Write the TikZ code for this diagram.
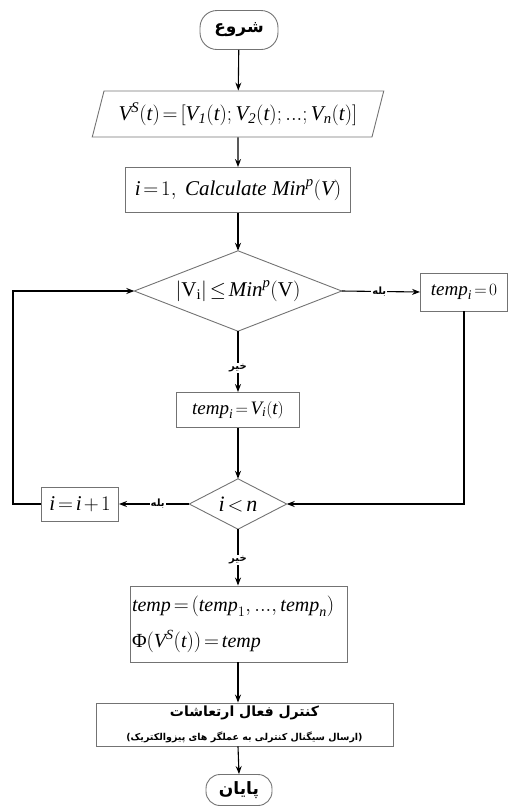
\documentclass[tikz,border=0pt]{standalone}
\usepackage{fontspec}
\setmainfont{Liberation Serif}
\newfontfamily\arabicfont[Script=Arabic]{DejaVu Sans}
\TeXXeTstate=1
\usetikzlibrary{arrows.meta,shapes.geometric}
\newcommand{\artxt}[1]{{\arabicfont\beginR #1\endR}}
\thickmuskip=2.5mu plus 1mu
\medmuskip=2mu
\begin{document}
\begin{tikzpicture}[x=1pt,y=-1pt,
  boxst/.style={draw=black!55, line width=0.9pt, inner sep=0pt, font=\fontsize{20}{23}\selectfont},
  plain/.style={inner sep=0pt, font=\fontsize{20}{23}\selectfont},
  term/.style={boxst, rounded corners=17pt, font=\arabicfont\bfseries\fontsize{17}{19}\selectfont},
  arr/.style={-{Stealth[length=8pt,width=6pt]}, line width=1.1pt},
  edge/.style={draw=black!55, line width=0.9pt},
  lbl/.style={fill=white, inner sep=1pt, font=\arabicfont\bfseries\fontsize{10}{11}\selectfont}]
\useasboundingbox (0,0) rectangle (510,807);

\node[term, minimum width=78pt, minimum height=39pt] (start) at (239,30) {\artxt{شروع}};
\node[boxst, trapezium, trapezium left angle=65, trapezium right angle=115, trapezium stretches=true,
      minimum width=292pt, minimum height=46pt, font=\fontsize{21}{24}\selectfont] (in) at (238,114)
  {$\mathit{V}^{\mathit{S}}(\mathit{t})=\Bigl[\mathit{V}_{\mathit{1}}(\mathit{t});\mathit{V}_{\mathit{2}}(\mathit{t});...;\mathit{V}_{\mathit{n}}(\mathit{t})\Bigr]$};
\node[boxst, minimum width=225pt, minimum height=45pt, font=\fontsize{21}{24}\selectfont] (b1) at (238,190)
  {$\mathit{i}=1,\ \mathit{Calculate}\ \mathit{Min}^{\mathit{p}}\bigl(\mathit{V}\bigr)$};
\node[plain, minimum width=207pt, minimum height=80pt, font=\fontsize{21}{24}\selectfont] (d1) at (238,291)
  {$\bigl|\mathrm{V}_{\mathrm{i}}\bigr|\le\mathit{Min}^{\mathit{p}}\bigl(\mathrm{V}\bigr)$};
\draw[edge] (d1.north) -- (d1.east) -- (d1.south) -- (d1.west) -- cycle;
\node[boxst, minimum width=87pt, minimum height=38pt, font=\fontsize{19}{22}\selectfont] (t0) at (464,292)
  {$\mathit{temp}_{\mathit{i}}=0$};
\node[boxst, minimum width=123pt, minimum height=35pt, font=\fontsize{19}{22}\selectfont] (b2) at (238,410)
  {$\mathit{temp}_{\mathit{i}}=\mathit{V}_{\mathit{i}}(\mathit{t})$};
\node[plain, minimum width=97pt, minimum height=50pt, font=\fontsize{22}{24}\selectfont] (d2) at (238,504)
  {$\mathit{i}<\mathit{n}$};
\draw[edge] (d2.north) -- (d2.east) -- (d2.south) -- (d2.west) -- cycle;
\node[boxst, minimum width=77pt, minimum height=34pt, font=\fontsize{21}{24}\selectfont] (inc) at (80,504)
  {$\mathit{i}=\mathit{i}+1$};
\node[boxst, minimum width=217pt, minimum height=76pt, align=left, text width=213pt, font=\fontsize{20}{23}\selectfont] (b3) at (238.5,624)
  {$\mathit{temp}=(\mathit{temp}_{1},...,\mathit{temp}_{\mathit{n}})$\\[13pt]
   $\textup{Φ}(\mathit{V}^{\mathit{S}}(\mathit{t}))=\mathit{temp}$};
\node[boxst, minimum width=297pt, minimum height=43pt, align=center] (b4) at (244.5,724.5)
  {{\arabicfont\bfseries\fontsize{14}{16}\selectfont\beginR کنترل فعال ارتعاشات\endR}\\[1pt]
   {\arabicfont\bfseries\fontsize{9.5}{11}\selectfont\beginR (ارسال سیگنال کنترلی به عملگر های پیزوالکتریک)\endR}};
\node[term, minimum width=66pt, minimum height=31pt, rounded corners=14pt] (end) at (239,790) {\artxt{پایان}};

\coordinate (lc) at (13,504);
\coordinate (rc) at (464,504);

\draw[arr] (start) -- (in);
\draw[arr] (in) -- (b1);
\draw[arr] (b1) -- (d1.north);
\draw[arr] (d1.east) -- node[lbl, pos=0.48] {\artxt{بله}} (t0.west);
\draw[arr] (d1.south) -- node[lbl, pos=0.6] {\artxt{خیر}} (b2.north);
\draw[arr] (b2) -- (d2.north);
\draw[arr] (d2.west) -- node[lbl, pos=0.45] {\artxt{بله}} (inc.east);
\draw[arr] (inc.west) -- (lc) |- (d1.west);
\draw[arr] (t0.south) -- (rc) -- (d2.east);
\draw[arr] (d2.south) -- node[lbl, pos=0.55] {\artxt{خیر}} (d2.south |- b3.north);
\draw[arr] (b3.south -| d2.south) -- (d2.south |- b4.north);
\draw[arr] (d2.south |- b4.south) -- (end.north);
\end{tikzpicture}
\end{document}
